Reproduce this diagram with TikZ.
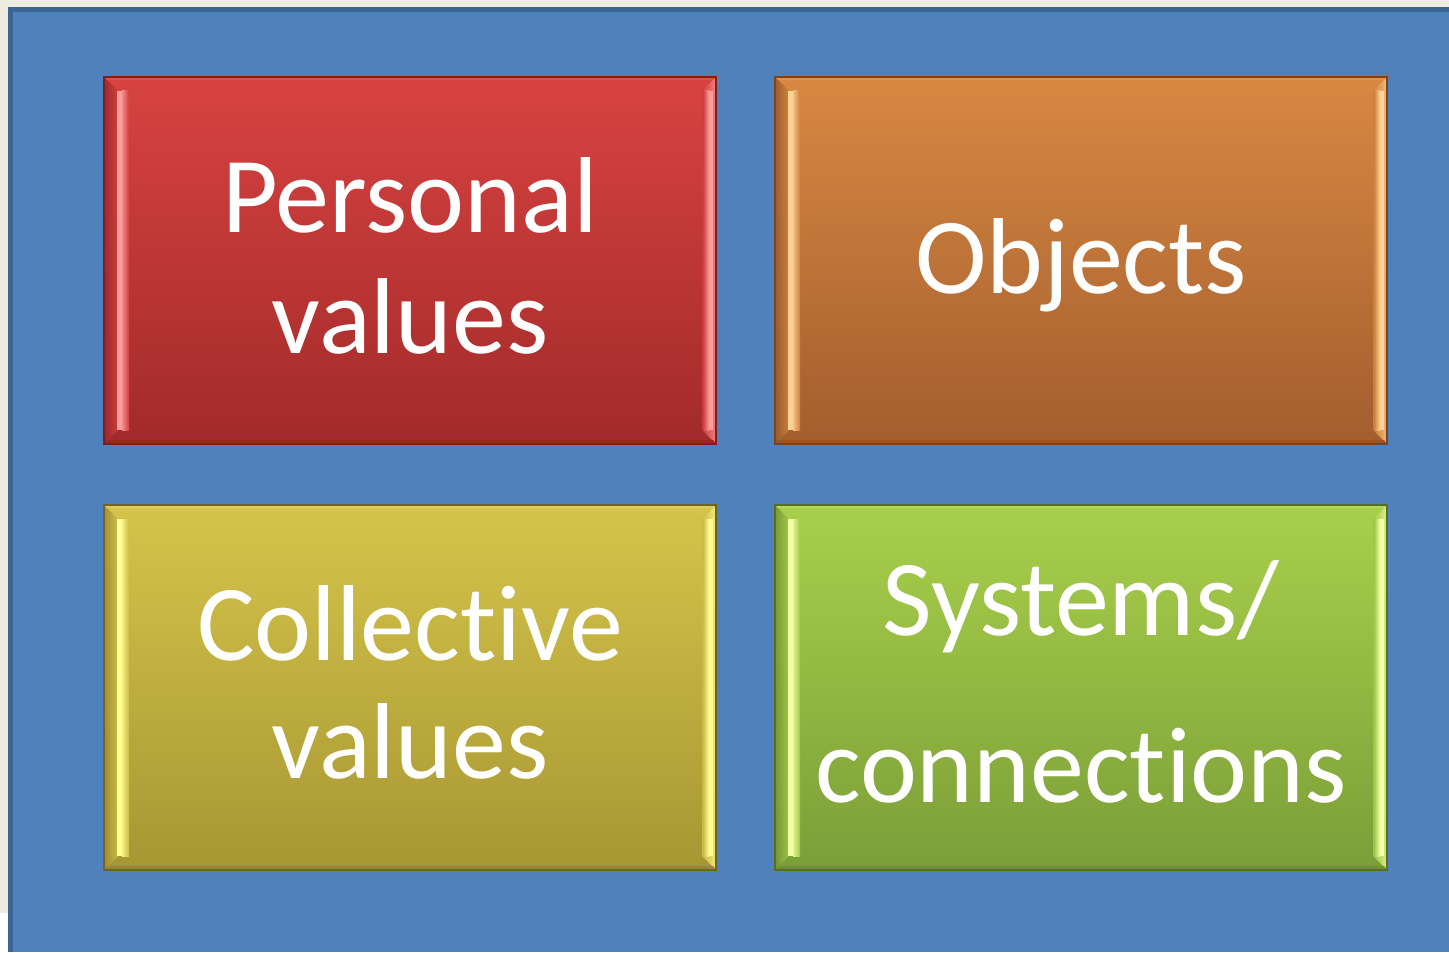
\documentclass[tikz,border=0pt]{standalone}
\usepackage{fontspec}
\setmainfont{Carlito}[Ligatures=NoCommon]
\definecolor{beige}{HTML}{EEEBE0}
\definecolor{bgblue}{HTML}{4F81BD}
\definecolor{bgdark}{HTML}{3C6595}
\definecolor{rTop}{HTML}{D84341}\definecolor{rBot}{HTML}{A22A2A}\definecolor{rHi}{HTML}{FF9C9C}\definecolor{rDk}{HTML}{7E1E1E}
\definecolor{oTop}{HTML}{D88842}\definecolor{oBot}{HTML}{A35E2E}\definecolor{oHi}{HTML}{FFD294}\definecolor{oDk}{HTML}{7A4420}
\definecolor{yTop}{HTML}{D5C44A}\definecolor{yBot}{HTML}{A79733}\definecolor{yHi}{HTML}{FFFF94}\definecolor{yDk}{HTML}{706422}
\definecolor{gTop}{HTML}{A8D04B}\definecolor{gBot}{HTML}{7B9E38}\definecolor{gHi}{HTML}{F4FFA4}\definecolor{gDk}{HTML}{566F24}
\tikzset{
  lbl/.style={text=white, font=\fontsize{54}{60}\selectfont, inner sep=0pt, anchor=base},
}
% #1 x1, #2 y1, #3 x2, #4 y2, #5 top, #6 bottom, #7 highlight, #8 dark
\newcommand\bevelbox[8]{%
  \shade[top color=#5, bottom color=#6] (#1,#2) rectangle (#3,#4);
  % left bevel strip
  \shade[left color=#6!80!#8, right color=#5!85!#6, opacity=0.9]
    (#1,#2) -- ({#1+14},{#2+14}) -- ({#1+14},{#4-14}) -- (#1,#4) -- cycle;
  % right bevel strip
  \shade[left color=#5!85!#6, right color=#7!80!#5, opacity=0.9]
    (#3,#2) -- ({#3-14},{#2+14}) -- ({#3-14},{#4-14}) -- (#3,#4) -- cycle;
  % highlights
  \fill[#7] ({#1+13},{#2+14}) rectangle ({#1+18},{#4-14});
  \shade[left color=#7!80!#5, right color=#5!80!#6] ({#1+18},{#2+14}) rectangle ({#1+25},{#4-14});
  \shade[left color=#5!80!#6, right color=#7] ({#3-13},{#2+14}) rectangle ({#3-7},{#4-14});
  \fill[#7] ({#3-7},{#2+14}) rectangle ({#3-3},{#4-14});
  % top and bottom thin bevels
  \fill[#5!85!#7] (#1,#2) -- (#3,#2) -- ({#3-3},{#2+3}) -- ({#1+3},{#2+3}) -- cycle;
  \fill[#6!70!#8] (#1,#4) -- (#3,#4) -- ({#3-3},{#4-4}) -- ({#1+3},{#4-4}) -- cycle;
  \draw[#8, line width=0.6pt] (#1,#2) rectangle (#3,#4);
}
\begin{document}
\begin{tikzpicture}[x=0.5pt, y=-0.5pt]
\useasboundingbox (0,0) rectangle (1449,952);
\fill[beige] (0,0) rectangle (1449,952);
\fill[white] (0,913) rectangle (8,952);
\fill[bgdark] (8,7) rectangle (1449,952);
\fill[bgblue] (13,12) rectangle (1449,952);

\bevelbox{104}{77}{716}{444}{rTop}{rBot}{rHi}{rDk}
\bevelbox{775}{77}{1387}{444}{oTop}{oBot}{oHi}{oDk}
\bevelbox{104}{505}{716}{870}{yTop}{yBot}{yHi}{yDk}
\bevelbox{775}{505}{1387}{870}{gTop}{gBot}{gHi}{gDk}

\node[lbl] (personal) at (410,233) {Personal};
\node[lbl] (pvalues) at (410,353) {values};
\node[lbl] (objects) at (1081,293) {Objects};
\node[lbl] (collective) at (410,660) {Collective};
\node[lbl] (cvalues) at (410,778) {values};
\node[lbl] (systems) at (1081,635) {Systems/};
\node[lbl] (connections) at (1081,802) {connections};
\end{tikzpicture}
\end{document}
